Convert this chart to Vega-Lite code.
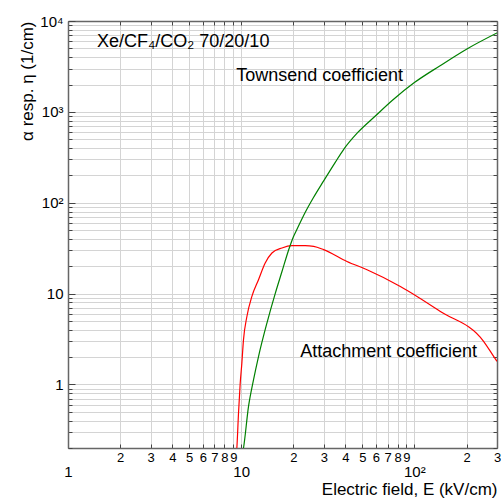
{
  "$schema": "https://vega.github.io/schema/vega-lite/v6.json",
  "width": 429,
  "height": 427,
  "autosize": {"type": "none"},
  "padding": {"left": 68, "top": 21, "right": 4, "bottom": 56},
  "background": "white",
  "config": {
    "view": {"stroke": null},
    "font": "Liberation Sans",
    "axis": {"labelFont": "Liberation Sans", "titleFont": "Liberation Sans", "labelColor": "black", "titleColor": "black", "titleFontWeight": "normal"}
  },
  "datasets": {
    "curves": [
      {"series": "Attachment", "E": 9.4, "v": 0.18},
      {"series": "Attachment", "E": 9.44, "v": 0.2},
      {"series": "Attachment", "E": 9.65, "v": 0.483},
      {"series": "Attachment", "E": 9.87, "v": 1.03},
      {"series": "Attachment", "E": 10.09, "v": 1.72},
      {"series": "Attachment", "E": 10.31, "v": 3.1},
      {"series": "Attachment", "E": 10.79, "v": 5.6},
      {"series": "Attachment", "E": 11.53, "v": 9.31},
      {"series": "Attachment", "E": 12.59, "v": 14.2},
      {"series": "Attachment", "E": 13.76, "v": 21.7},
      {"series": "Attachment", "E": 15.05, "v": 28.0},
      {"series": "Attachment", "E": 17.2, "v": 31.8},
      {"series": "Attachment", "E": 19.64, "v": 33.7},
      {"series": "Attachment", "E": 23.4, "v": 33.7},
      {"series": "Attachment", "E": 26.2, "v": 33.1},
      {"series": "Attachment", "E": 29.9, "v": 30.5},
      {"series": "Attachment", "E": 40.8, "v": 22.6},
      {"series": "Attachment", "E": 53.3, "v": 18.3},
      {"series": "Attachment", "E": 83.0, "v": 12.0},
      {"series": "Attachment", "E": 141.3, "v": 6.36},
      {"series": "Attachment", "E": 251.6, "v": 2.97},
      {"series": "Attachment", "E": 294, "v": 1.9},
      {"series": "Attachment", "E": 300, "v": 1.8},
      {"series": "Townsend", "E": 10.2, "v": 0.18},
      {"series": "Townsend", "E": 10.31, "v": 0.2},
      {"series": "Townsend", "E": 11.02, "v": 0.571},
      {"series": "Townsend", "E": 11.78, "v": 1.124},
      {"series": "Townsend", "E": 12.59, "v": 2.03},
      {"series": "Townsend", "E": 14.08, "v": 4.74},
      {"series": "Townsend", "E": 15.72, "v": 10},
      {"series": "Townsend", "E": 17.2, "v": 17.5},
      {"series": "Townsend", "E": 18.77, "v": 30},
      {"series": "Townsend", "E": 20.0, "v": 42},
      {"series": "Townsend", "E": 21.0, "v": 51},
      {"series": "Townsend", "E": 23.4, "v": 78},
      {"series": "Townsend", "E": 26.0, "v": 112},
      {"series": "Townsend", "E": 30.0, "v": 175},
      {"series": "Townsend", "E": 35.0, "v": 280},
      {"series": "Townsend", "E": 39.0, "v": 385},
      {"series": "Townsend", "E": 47.0, "v": 590},
      {"series": "Townsend", "E": 59.5, "v": 900},
      {"series": "Townsend", "E": 75, "v": 1350},
      {"series": "Townsend", "E": 100, "v": 2100},
      {"series": "Townsend", "E": 140, "v": 3200},
      {"series": "Townsend", "E": 200, "v": 4900},
      {"series": "Townsend", "E": 300, "v": 7400}
    ]
  },
  "layer": [
    {
      "data": {"name": "curves"},
      "mark": {"type": "line", "strokeWidth": 1.2, "clip": true, "interpolate": "monotone"},
      "encoding": {
        "x": {
          "field": "E", "type": "quantitative",
          "scale": {"type": "log", "domain": [1, 300], "nice": false},
          "axis": {
            "orient": "bottom",
            "values": [1,2,3,4,5,6,7,8,9,10,20,30,40,50,60,70,80,90,100,200,300],
            "grid": true, "gridColor": "#d4d4d4", "gridWidth": 1,
            "domain": true, "domainColor": "#666666", "domainWidth": 1.5,
            "ticks": true, "tickSize": -4, "tickColor": "#444444",
            "labelExpr": "datum.value==1 ? '1' : datum.value==10 ? '10' : datum.value==100 ? '10²' : datum.value<10 ? toString(datum.value) : datum.value<100 ? toString(round(datum.value/10)) : toString(round(datum.value/100))",
            "labelFontSize": {"condition": {"test": "datum.value==1||datum.value==10||datum.value==100", "value": 15}, "value": 13},
            "labelPadding": {"condition": {"test": "datum.value==1||datum.value==10||datum.value==100", "value": 20}, "value": 7},
            "labelOverlap": false, "labelFlush": false, "labelBound": false,
            "title": "Electric field, E (kV/cm)", "titleFontSize": 17, "titleAnchor": "end", "titleBaseline": "middle", "titleY": 41
          }
        },
        "y": {
          "field": "v", "type": "quantitative",
          "scale": {"type": "log", "domain": [0.2, 10000], "nice": false},
          "axis": {
            "orient": "left",
            "values": [0.2,0.3,0.4,0.5,0.6,0.7,0.8,0.9,1,2,3,4,5,6,7,8,9,10,20,30,40,50,60,70,80,90,100,200,300,400,500,600,700,800,900,1000,2000,3000,4000,5000,6000,7000,8000,9000,10000],
            "grid": true, "gridColor": "#d4d4d4", "gridWidth": 1,
            "domain": true, "domainColor": "#666666", "domainWidth": 1.5,
            "ticks": true, "tickColor": "#444444",
            "tickSize": {"condition": {"test": "datum.value==1||datum.value==10||datum.value==100||datum.value==1000||datum.value==10000", "value": -7}, "value": -4},
            "labelExpr": "datum.value==1 ? '1' : datum.value==10 ? '10' : datum.value==100 ? '10²' : datum.value==1000 ? '10³' : datum.value==10000 ? '10⁴' : ''",
            "labelFontSize": 15, "labelPadding": 12,
            "labelOverlap": false, "labelFlush": false, "labelBound": false,
            "title": "α resp. η (1/cm)", "titleFontSize": 17, "titleAnchor": "end", "titleBaseline": "middle", "titleX": -41
          }
        },
        "color": {
          "field": "series", "type": "nominal",
          "scale": {"domain": ["Attachment", "Townsend"], "range": ["#ff0000", "#008000"]},
          "legend": null
        }
      }
    },
    {
      "data": {"values": [{}]},
      "mark": {"type": "text", "align": "left", "baseline": "middle", "fontSize": 18, "color": "black", "font": "Liberation Sans"},
      "encoding": {
        "x": {
          "datum": 1.47, "type": "quantitative",
          "scale": {"type": "log", "domain": [1, 300], "nice": false},
          "axis": {
            "orient": "top",
            "values": [1,2,3,4,5,6,7,8,9,10,20,30,40,50,60,70,80,90,100,200,300],
            "grid": false, "labels": false, "title": null,
            "domain": true, "domainColor": "#666666", "domainWidth": 1.5,
            "ticks": true, "tickSize": -4, "tickColor": "#444444"
          }
        },
        "y": {
          "datum": 5825, "type": "quantitative",
          "scale": {"type": "log", "domain": [0.2, 10000], "nice": false},
          "axis": {
            "orient": "right",
            "values": [0.2,0.3,0.4,0.5,0.6,0.7,0.8,0.9,1,2,3,4,5,6,7,8,9,10,20,30,40,50,60,70,80,90,100,200,300,400,500,600,700,800,900,1000,2000,3000,4000,5000,6000,7000,8000,9000,10000],
            "grid": false, "labels": false, "title": null,
            "domain": true, "domainColor": "#666666", "domainWidth": 1.5,
            "ticks": true, "tickColor": "#444444",
            "tickSize": {"condition": {"test": "datum.value==1||datum.value==10||datum.value==100||datum.value==1000||datum.value==10000", "value": -7}, "value": -4}
          }
        },
        "text": {"value": "Xe/CF₄/CO₂ 70/20/10"}
      }
    },
    {
      "data": {"values": [{}]},
      "mark": {"type": "text", "align": "left", "baseline": "middle", "fontSize": 18, "color": "black", "font": "Liberation Sans"},
      "encoding": {
        "x": {"datum": 9.36, "type": "quantitative", "scale": {"type": "log", "domain": [1, 300], "nice": false}, "axis": null},
        "y": {"datum": 2460, "type": "quantitative", "scale": {"type": "log", "domain": [0.2, 10000], "nice": false}, "axis": null},
        "text": {"value": "Townsend coefficient"}
      }
    },
    {
      "data": {"values": [{}]},
      "mark": {"type": "text", "align": "left", "baseline": "middle", "fontSize": 18, "color": "black", "font": "Liberation Sans"},
      "encoding": {
        "x": {"datum": 21.9, "type": "quantitative", "scale": {"type": "log", "domain": [1, 300], "nice": false}, "axis": null},
        "y": {"datum": 2.29, "type": "quantitative", "scale": {"type": "log", "domain": [0.2, 10000], "nice": false}, "axis": null},
        "text": {"value": "Attachment coefficient"}
      }
    }
  ],
  "resolve": {"axis": {"x": "independent", "y": "independent"}}
}
